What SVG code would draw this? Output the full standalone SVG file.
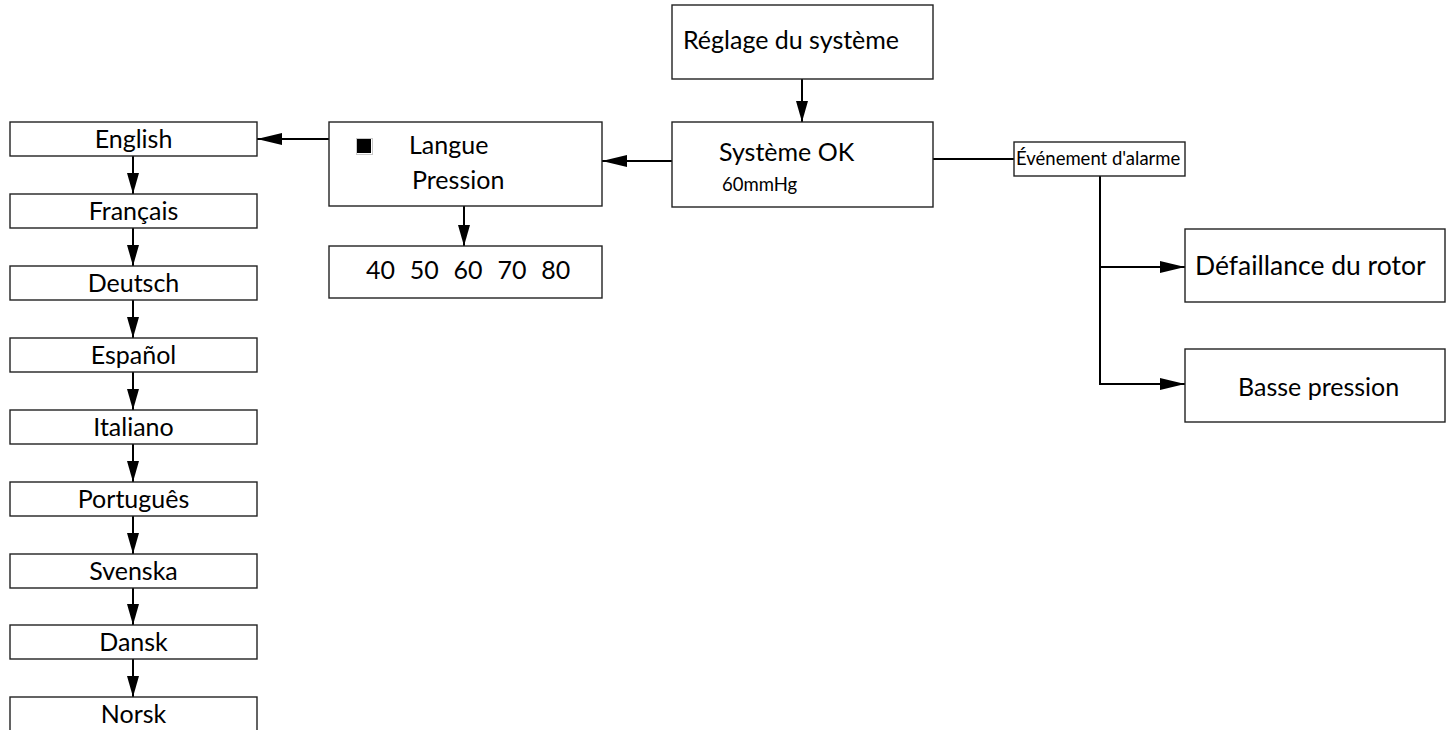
<svg xmlns="http://www.w3.org/2000/svg" width="1453" height="730" viewBox="0 0 1453 730">
  <style>
    .box { fill: #fff; stroke: #222; stroke-width: 1.4; }
    .t { font-family: Lato, "Open Sans", "Liberation Sans", sans-serif; fill: #000; }
    .lg { font-size: 25px; }
    .xl { font-size: 26.5px; }
    .md { font-size: 18.5px; }
    .c { text-anchor: middle; }
    .wire { fill: none; stroke: #000; stroke-width: 2; }
  </style>
  <defs>
    <marker id="arr" viewBox="0 0 25 12" refX="25" refY="6" markerWidth="25" markerHeight="12" markerUnits="userSpaceOnUse" orient="auto">
      <path d="M0,0 L25,6 L0,12 Z" fill="#000"/>
    </marker>
    <marker id="arrS" viewBox="0 0 21 12" refX="21" refY="6" markerWidth="21" markerHeight="12" markerUnits="userSpaceOnUse" orient="auto">
      <path d="M0,0 L21,6 L0,12 Z" fill="#000"/>
    </marker>
  </defs>

  <!-- connectors -->
  <g id="connectors">
    <line class="wire" x1="802" y1="79" x2="802" y2="122" marker-end="url(#arrS)"/>
    <line class="wire" x1="672" y1="161" x2="602" y2="161" marker-end="url(#arr)"/>
    <line class="wire" x1="329" y1="139" x2="257" y2="139" marker-end="url(#arr)"/>
    <line class="wire" x1="464" y1="206" x2="464" y2="246" marker-end="url(#arrS)"/>
    <line class="wire" x1="933" y1="159" x2="1014" y2="159"/>
    <polyline class="wire" points="1100,176 1100,384 1185,384" marker-end="url(#arr)"/>
    <line class="wire" x1="1100" y1="267" x2="1185" y2="267" marker-end="url(#arr)"/>
    <line class="wire" x1="133" y1="156" x2="133" y2="194" marker-end="url(#arrS)"/>
    <line class="wire" x1="133" y1="228" x2="133" y2="266" marker-end="url(#arrS)"/>
    <line class="wire" x1="133" y1="300" x2="133" y2="338" marker-end="url(#arrS)"/>
    <line class="wire" x1="133" y1="372" x2="133" y2="410" marker-end="url(#arrS)"/>
    <line class="wire" x1="133" y1="444" x2="133" y2="482" marker-end="url(#arrS)"/>
    <line class="wire" x1="133" y1="516" x2="133" y2="554" marker-end="url(#arrS)"/>
    <line class="wire" x1="133" y1="588" x2="133" y2="625" marker-end="url(#arrS)"/>
    <line class="wire" x1="133" y1="659" x2="133" y2="697" marker-end="url(#arrS)"/>
  </g>

  <!-- top menu -->
  <g id="reglage">
    <rect class="box" x="672" y="5" width="261" height="74"/>
    <text class="t lg" x="683" y="49">Réglage du système</text>
  </g>
  <g id="systeme-ok">
    <rect class="box" x="672" y="122" width="261" height="85"/>
    <text class="t lg" x="719" y="161">Système OK</text>
    <text class="t md" x="722" y="191">60mmHg</text>
  </g>

  <!-- settings menu -->
  <g id="langue-pression">
    <rect class="box" x="329" y="122" width="273" height="84"/>
    <rect x="356.5" y="138.5" width="16" height="16" fill="none" stroke="#c8c8c8" stroke-width="1"/>
    <rect x="357" y="139" width="14" height="14" fill="#000"/>
    <text class="t lg" x="409" y="154">Langue</text>
    <text class="t lg" x="412" y="189">Pression</text>
  </g>
  <g id="pression-values">
    <rect class="box" x="329" y="246" width="273" height="52"/>
    <text class="t lg" x="366" y="279" xml:space="preserve" word-spacing="1">40  50  60  70  80</text>
  </g>

  <!-- alarms -->
  <g id="evenement">
    <rect class="box" x="1014" y="142" width="171" height="34"/>
    <text class="t md" x="1016" y="165">Événement d'alarme</text>
  </g>
  <g id="defaillance">
    <rect class="box" x="1185" y="229" width="260" height="73"/>
    <text class="t xl" x="1195" y="275">Défaillance du rotor</text>
  </g>
  <g id="basse-pression">
    <rect class="box" x="1185" y="349" width="260" height="73"/>
    <text class="t lg" x="1238" y="396">Basse pression</text>
  </g>

  <!-- language list -->
  <g id="lang-english">
    <rect class="box" x="10" y="122" width="247" height="34"/>
    <text class="t lg c" x="133.5" y="148">English</text>
  </g>
  <g id="lang-francais">
    <rect class="box" x="10" y="194" width="247" height="34"/>
    <text class="t lg c" x="133.5" y="220">Français</text>
  </g>
  <g id="lang-deutsch">
    <rect class="box" x="10" y="266" width="247" height="34"/>
    <text class="t lg c" x="133.5" y="292">Deutsch</text>
  </g>
  <g id="lang-espanol">
    <rect class="box" x="10" y="338" width="247" height="34"/>
    <text class="t lg c" x="133.5" y="364">Español</text>
  </g>
  <g id="lang-italiano">
    <rect class="box" x="10" y="410" width="247" height="34"/>
    <text class="t lg c" x="133.5" y="436">Italiano</text>
  </g>
  <g id="lang-portugues">
    <rect class="box" x="10" y="482" width="247" height="34"/>
    <text class="t lg c" x="133.5" y="508">Português</text>
  </g>
  <g id="lang-svenska">
    <rect class="box" x="10" y="554" width="247" height="34"/>
    <text class="t lg c" x="133.5" y="580">Svenska</text>
  </g>
  <g id="lang-dansk">
    <rect class="box" x="10" y="625" width="247" height="34"/>
    <text class="t lg c" x="133.5" y="651">Dansk</text>
  </g>
  <g id="lang-norsk">
    <rect class="box" x="10" y="697" width="247" height="40"/>
    <text class="t lg c" x="133.5" y="723">Norsk</text>
  </g>
</svg>
